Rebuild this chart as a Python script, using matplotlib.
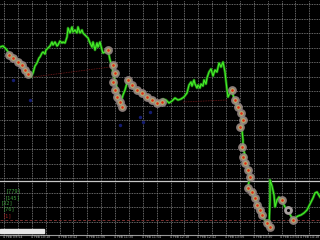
import matplotlib

matplotlib.use("Agg")

import matplotlib.pyplot as plt
from matplotlib.patches import Rectangle

# price path (bar position, screen level where 0 is the top of the chart)
bar_x = [0, 3, 6, 9, 12, 15, 18, 21, 24, 27, 29, 31, 33, 35, 37, 39, 40, 42, 43, 45,
         46, 48, 50, 52, 53, 55, 57, 58, 60, 62, 63, 65, 67, 68, 70, 72, 73, 75, 77,
         78, 80, 82, 83, 85, 88, 90, 92, 93, 95, 97, 98, 100, 102, 103, 105, 108,
         110, 112, 113, 115, 117, 119, 121, 123, 125, 127, 129, 131, 133, 136, 139,
         142, 145, 148, 151, 154, 157, 160, 163, 166, 169, 172, 175, 178, 181, 184,
         187, 189, 191, 192, 194, 195, 197, 198, 200, 201, 203, 204, 206, 207, 209,
         211, 213, 215, 217, 219, 221, 223, 225, 227, 228, 230, 232, 234, 236, 238,
         240, 242, 242, 243, 243, 245, 246, 248, 249, 250, 248, 251, 254, 257, 260,
         262, 265, 267, 269, 270, 270, 272, 274, 275, 277, 279, 282, 285, 288, 291,
         293, 295, 298, 301, 304, 307, 310, 313, 315, 317, 320]
bar_y = [47, 46, 49, 53, 56, 58, 60, 62, 68, 72, 76, 77, 73, 66, 63, 58, 57, 53, 52, 54,
         50, 48, 46, 42, 45, 42, 46, 45, 41, 43, 42, 43, 37, 28, 33, 27, 32, 30, 33,
         27, 33, 30, 33, 35, 38, 43, 47, 42, 50, 43, 47, 42, 50, 53, 52, 50,
         60, 66, 72, 80, 88, 97, 102, 95, 90, 83, 80, 82, 88, 90, 92,
         95, 96, 99, 100, 103, 101, 102, 99, 100, 103, 101, 98, 100, 99, 97,
         93, 85, 82, 86, 80, 84, 88, 85, 88, 84, 86, 80, 84, 78, 72,
         69, 76, 70, 72, 63, 67, 62, 72, 90, 97, 93, 92, 98, 104, 108,
         112, 120, 130, 140, 148, 155, 162, 168, 175, 178, 186, 190, 197, 204, 210,
         214, 220, 224, 228, 200, 180, 186, 195, 207, 200, 197, 201, 207, 211, 216,
         220, 218, 216, 215, 213, 210, 204, 198, 193, 192, 197]

# trade signals
signal_x = [9, 13, 18, 22, 25, 28, 108, 113, 115, 113, 115, 117, 120, 122, 128, 132,
            137, 142, 147, 152, 157, 162, 232, 235, 238, 241, 243, 240, 242, 243, 245,
            248, 250, 248, 252, 255, 257, 260, 262, 267, 270, 282, 293]
signal_y = [55, 58, 62, 65, 70, 74, 50, 65, 73, 82, 90, 97, 102, 107, 80, 85,
            90, 93, 97, 100, 103, 102, 90, 100, 107, 113, 120, 127, 147, 157, 163,
            170, 177, 188, 192, 198, 205, 210, 215, 223, 227, 200, 220]
open_x = [288]
open_y = [210]

ghost_x = [13, 30, 120, 140, 143, 150]
ghost_y = [80, 100, 125, 117, 122, 112]

trend_a_x = [33, 110]
trend_a_y = [77, 67]
trend_b_x = [183, 227]
trend_b_y = [102, 100]

level_main = 181
level_stop = 220

counters = ["[779]", "[145]", "[32]", "[76]", "[1]"]
counter_x = [6, 5, 1, 3, 3]
counter_y = [191, 198, 203, 209, 216]
counter_col = ["#3c9c3c", "#3c9c3c", "#3c9c3c", "#3c9c3c", "#a02020"]

time_labels = ["4 Feb 09:54", "4 Feb 10:18", "4 Feb 10:42", "4 Feb 11:06",
               "4 Feb 11:30", "4 Feb 11:54", "4 Feb 12:18", "4 Feb 12:42",
               "4 Feb 13:06", "4 Feb 13:30", "4 Feb 13:54", "4 Feb 14:18"]

TOP = 235  # chart height in screen rows


def lvl(values):
    return [TOP - v for v in values]


fig = plt.figure(figsize=(3.2, 2.4), dpi=100, facecolor="black")
ax = fig.add_axes([0, 5 / 240, 1, 235 / 240])
ax.set_facecolor("black")
ax.set_xlim(0, 320)
ax.set_ylim(0, TOP)

grid_x = [4 + 13.875 * k for k in range(23)]
grid_y = [TOP - (4 + 14.5 * k) for k in range(16)]
ax.set_xticks(grid_x)
ax.set_yticks(grid_y)
ax.tick_params(length=0, labelbottom=False, labelleft=False)
ax.grid(True, color="#8a8a8a", linestyle=(0, (1, 1)), linewidth=0.6)
for side in ["top", "left", "right"]:
    ax.spines[side].set_visible(False)
ax.spines["bottom"].set_color("#9a9a9a")
ax.spines["bottom"].set_linewidth(0.8)

ax.axhline(TOP - level_main, color="#c8c8c8", linewidth=0.9)
ax.axhline(TOP - level_stop, color="#7a3030", linewidth=0.7, linestyle=(0, (3, 2)))
ax.plot(trend_a_x, lvl(trend_a_y), color="#7a1a1a", linewidth=0.6, linestyle=(0, (1, 1)))
ax.plot(trend_b_x, lvl(trend_b_y), color="#7a1a1a", linewidth=0.6, linestyle=(0, (1, 1)))

ax.scatter(ghost_x, lvl(ghost_y), s=6, color="#141c70", linewidths=0, zorder=2)

ax.plot(bar_x, lvl(bar_y), color="#1c7a12", linewidth=1.9, zorder=3)
ax.plot(bar_x, lvl(bar_y), color="#46f028", linewidth=0.8, zorder=4)

ax.scatter(signal_x, lvl(signal_y), s=40, color="#9a8a86", alpha=0.9, linewidths=0, zorder=5)
ax.scatter(signal_x, lvl(signal_y), s=11, color="#b8b070", linewidths=0, zorder=6)
ax.scatter(signal_x, lvl(signal_y), s=3.5, color="#e02a14", linewidths=0, zorder=7)
ax.scatter(open_x, lvl(open_y), s=40, color="#a8a0a0", linewidths=0, zorder=5)
ax.scatter(open_x, lvl(open_y), s=5, color="black", linewidths=0, zorder=7)

for text, x, y, col in zip(counters, counter_x, counter_y, counter_col):
    ax.text(x, TOP - y, text, color=col, fontsize=3.8, va="center", ha="left",
            family="DejaVu Sans Mono")

ax.add_patch(Rectangle((0, TOP - 233), 44, 4, color="#e6e6e6", zorder=8))

last = len(time_labels) - 1
for k, label in enumerate(time_labels):
    if k == last:
        fig.text(319 / 320, 1.5 / 240, label, color="#c0c0c0",
                 fontsize=2.3, ha="right", va="bottom")
    else:
        fig.text((3 + 27.75 * k) / 320, 1.5 / 240, label, color="#c0c0c0",
                 fontsize=2.3, ha="left", va="bottom")

fig.savefig("out.png", dpi=100, facecolor="black")
